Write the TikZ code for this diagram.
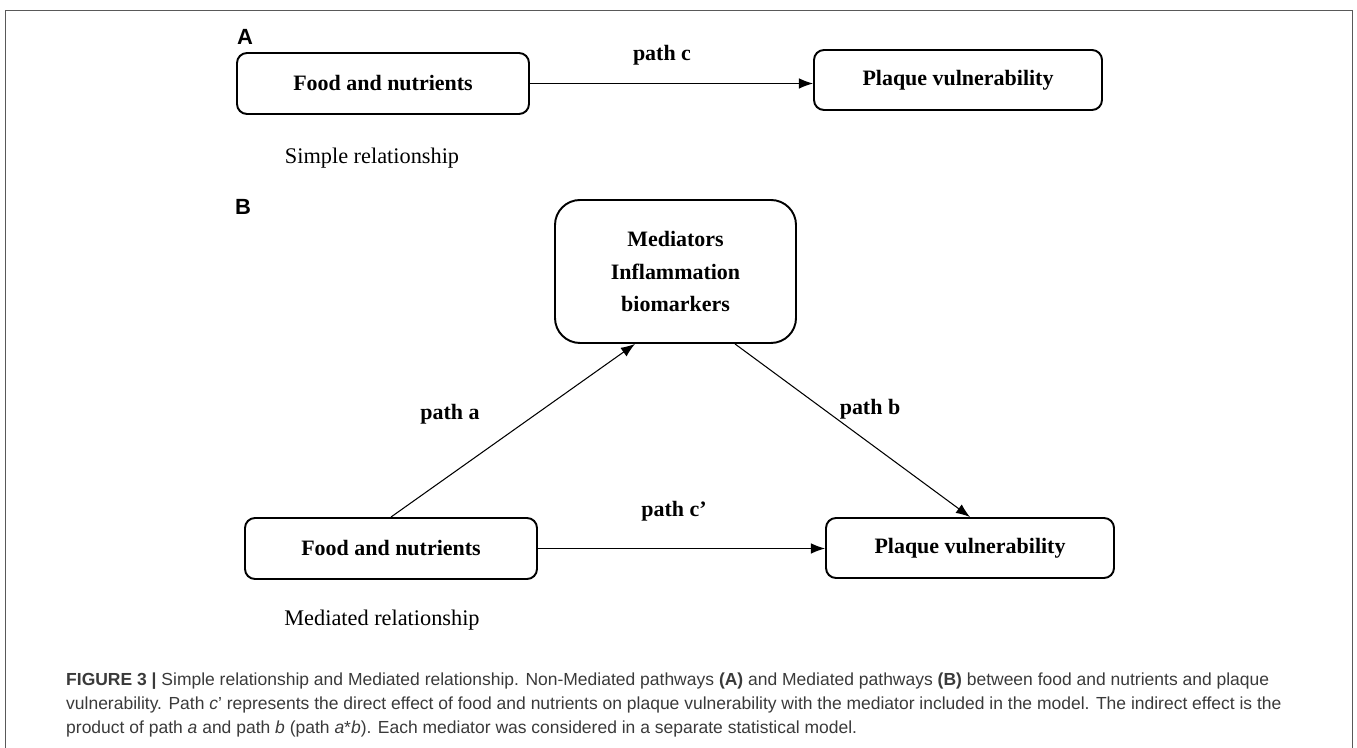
\documentclass[tikz,border=0pt]{standalone}
\usepackage{fontspec}
\setmainfont{Liberation Serif}
\newfontfamily\capfont{Liberation Sans}
\usetikzlibrary{arrows.meta,calc}
\definecolor{capgray}{HTML}{3A3A3A}

\begin{document}
\begin{tikzpicture}[scale=1.0,>={Latex[length=8pt,width=6pt]},
  box/.style={draw,line width=1.1pt,rounded corners=0.2cm,minimum width=5.84cm,minimum height=1.22cm,font=\fontsize{12.5}{14}\selectfont\bfseries},
  medbox/.style={box,rounded corners=0.5cm,minimum width=4.82cm,minimum height=2.86cm,align=center,font=\fontsize{12.5}{18.6}\selectfont\bfseries},
  pathlbl/.style={font=\fontsize{12.5}{14}\selectfont\bfseries},
  panel/.style={font=\capfont\fontsize{12.5}{14}\selectfont\bfseries},
  caption/.style={anchor=west,text=capgray,font=\capfont\fontsize{9.95}{12}\selectfont},
  arr/.style={->,line width=0.6pt}]
  \useasboundingbox (0,0) rectangle (27.14,14.96);
  \draw[gray!70!black,line width=0.5pt] (0.1,0) -- (0.1,14.76) -- (27.04,14.76) -- (27.04,0);
  % panel A
  \node[panel] (labA) at (4.9,14.22) {A};
  \node[box] (foodA) at (7.66,13.29) {Food and nutrients};
  \node[box,minimum width=5.76cm,minimum height=1.2cm] (plaqueA) at (19.16,13.36) {Plaque vulnerability};
  \draw[arr] (foodA.east) -- (foodA.east -| plaqueA.west);
  \node[pathlbl] (pc) at (13.24,13.86) {path c};
  \node[font=\fontsize{12.7}{14}\selectfont] (simple) at (7.44,11.8) {Simple relationship};
  % panel B
  \node[panel] (labB) at (4.86,10.82) {B};
  \node[medbox] (med) at (13.51,9.53) {Mediators\\Inflammation\\biomarkers};
  \node[box] (foodB) at (7.82,3.99) {Food and nutrients};
  \node[box,minimum width=5.76cm,minimum height=1.2cm] (plaqueB) at (19.4,4.0) {Plaque vulnerability};
  \draw[arr] (foodB.north) -- ($(med.south)+(-0.81,0)$);
  \draw[arr] ($(med.south)+(1.19,0)$) -- (plaqueB.north);
  \draw[arr] (foodB.east) -- (foodB.east -| plaqueB.west);
  \node[pathlbl] (pa) at (9.0,6.68) {path a};
  \node[pathlbl] (pb) at (17.4,6.78) {path b};
  \node[pathlbl] (pcp) at (13.48,4.74) {path c’};
  \node[font=\fontsize{12.7}{14}\selectfont] (mediated) at (7.64,2.56) {Mediated relationship};
  % caption
  \node[caption] (cap1) at (1.2,1.34) {\textbf{FIGURE 3 |} Simple relationship and Mediated relationship. Non-Mediated pathways \textbf{(A)} and Mediated pathways \textbf{(B)} between food and nutrients and plaque};
  \node[caption] (cap2) at (1.2,0.86) {vulnerability. Path \textit{c}’ represents the direct effect of food and nutrients on plaque vulnerability with the mediator included in the model. The indirect effect is the};
  \node[caption] (cap3) at (1.2,0.38) {product of path \textit{a} and path \textit{b} (path \textit{a}*\textit{b}). Each mediator was considered in a separate statistical model.};
\end{tikzpicture}
\end{document}
